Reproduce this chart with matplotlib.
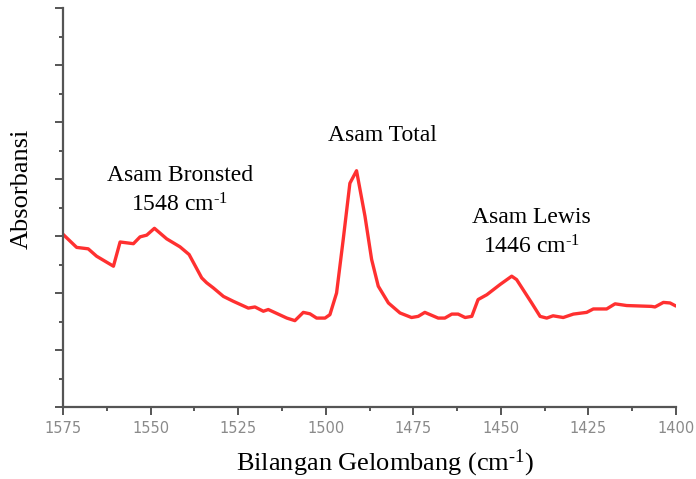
import numpy as np
import matplotlib
matplotlib.use('Agg')
import matplotlib.pyplot as plt
from matplotlib.ticker import MultipleLocator, NullFormatter

# FTIR pyridine adsorption spectrum
wavenumber = [1575.0, 1571.1, 1567.8, 1565.4, 1560.6, 1558.7, 1554.9, 1553.0, 1551.1,
              1548.9, 1545.4, 1541.6, 1539.0, 1535.4, 1534.0, 1532.1, 1529.2, 1526.4,
              1522.1, 1520.2, 1517.8, 1516.4, 1511.1, 1508.8, 1506.4, 1504.5, 1502.6,
              1500.2, 1498.8, 1496.9, 1495.0, 1493.1, 1491.2, 1488.8, 1486.9, 1485.0,
              1482.1, 1478.8, 1475.5, 1473.6, 1471.7, 1467.9, 1466.0, 1464.0, 1462.2,
              1460.2, 1458.3, 1456.5, 1454.0, 1450.2, 1446.9, 1445.5, 1441.2, 1438.8,
              1436.9, 1435.1, 1432.2, 1429.3, 1425.5, 1423.6, 1419.8, 1417.4, 1414.1,
              1407.0, 1406.0, 1403.6, 1401.7, 1400.3]
absorb = [6.06, 5.60, 5.55, 5.29, 4.94, 5.79, 5.73, 5.97, 6.03,
          6.27, 5.90, 5.62, 5.35, 4.53, 4.36, 4.18, 3.88, 3.71,
          3.47, 3.51, 3.36, 3.42, 3.12, 3.03, 3.32, 3.27, 3.12,
          3.12, 3.24, 4.00, 5.88, 7.85, 8.29, 6.70, 5.18, 4.24,
          3.65, 3.30, 3.14, 3.18, 3.32, 3.12, 3.12, 3.26, 3.26,
          3.14, 3.18, 3.77, 3.94, 4.30, 4.59, 4.47, 3.65, 3.18,
          3.12, 3.20, 3.14, 3.26, 3.32, 3.44, 3.44, 3.62, 3.56,
          3.53, 3.51, 3.67, 3.65, 3.56]

sup = r'$^{\text{-1}}$'
peak_labels = ['Asam Bronsted\n1548 cm' + sup, 'Asam Total', 'Asam Lewis\n1446 cm' + sup]
peak_x = [1541.6, 1483.9, 1441.2]
peak_y = [7.6, 9.54, 6.12]

plt.rcParams['mathtext.fontset'] = 'custom'
plt.rcParams['mathtext.rm'] = 'Liberation Serif'
plt.rcParams['mathtext.it'] = 'Liberation Serif:italic'

fig = plt.figure(figsize=(6.96, 4.79), dpi=100)
ax = fig.add_axes([63/696, 72/479, 613/696, 399/479])

ax.plot(wavenumber, absorb, color='#ff3030', lw=2.4)

ax.set_xlim(1575, 1400)
ax.set_ylim(0, 14)
ax.xaxis.set_major_locator(MultipleLocator(25))
ax.xaxis.set_minor_locator(MultipleLocator(12.5))
ax.yaxis.set_major_locator(MultipleLocator(2))
ax.yaxis.set_minor_locator(MultipleLocator(1))
ax.yaxis.set_major_formatter(NullFormatter())

for s in ['top', 'right']:
    ax.spines[s].set_visible(False)
for s in ['left', 'bottom']:
    ax.spines[s].set_color('#555555')
    ax.spines[s].set_linewidth(1.6)

ax.tick_params(which='major', direction='out', length=6, width=1.4, color='#555555',
               labelsize=10.5, labelcolor='#8a8a8a', pad=4)
ax.tick_params(which='minor', direction='out', length=3, width=1.4, color='#555555')

for lab, x, y in zip(peak_labels, peak_x, peak_y):
    ax.text(x, y, lab, ha='center', va='center', fontsize=17,
            family='Liberation Serif', linespacing=1.4)

ax.set_xlabel('Bilangan Gelombang (cm' + sup + ')', fontsize=19, family='Liberation Serif')
ax.xaxis.set_label_coords(0.525, -0.14)
ax.xaxis.label.set_va('center')
ax.set_ylabel('Absorbansi', fontsize=19, family='Liberation Serif')
ax.yaxis.set_label_coords(-0.068, 0.546)
ax.yaxis.label.set_va('center')

fig.savefig('out.png', dpi=100)
